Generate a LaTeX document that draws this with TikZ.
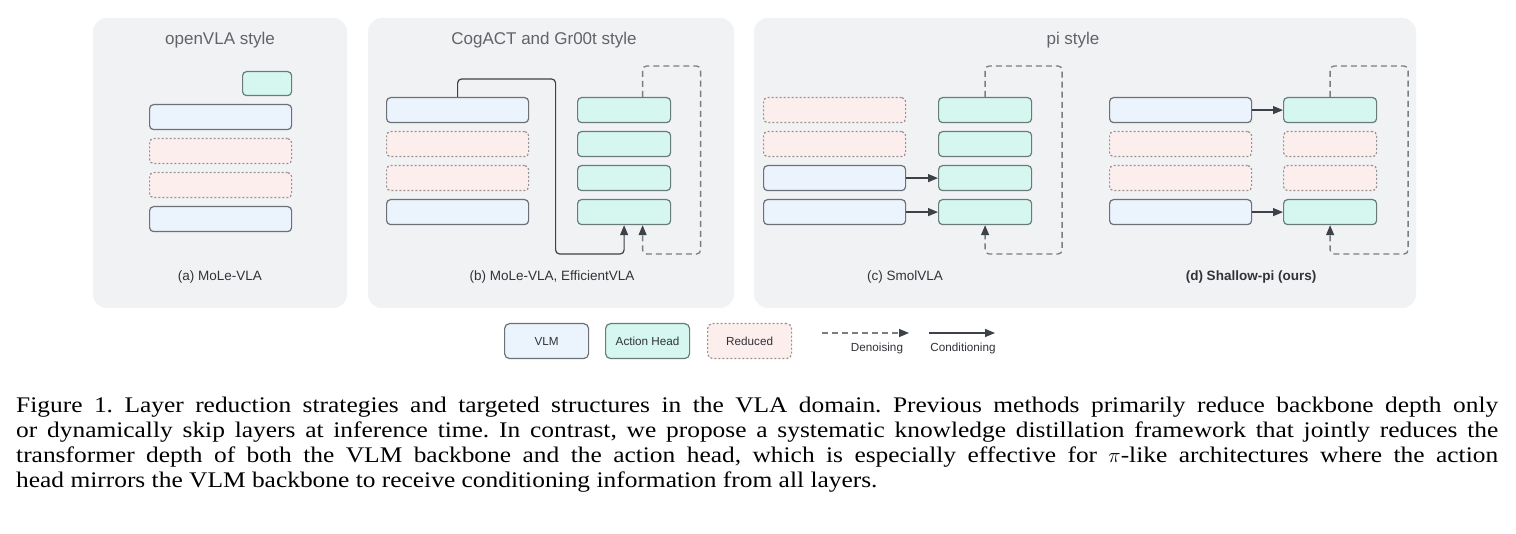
\documentclass[tikz,border=0pt]{standalone}
\usepackage{fontspec}
\setmainfont{Liberation Serif}[FakeStretch=1.14]
\newfontfamily\diagfont{Liberation Sans}
\usetikzlibrary{arrows.meta}
\definecolor{panelbg}{HTML}{F1F2F4}
\definecolor{vlmfill}{HTML}{EBF3FD}
\definecolor{actfill}{HTML}{D6F7F0}
\definecolor{redfill}{HTML}{FDEEEE}
\definecolor{boxline}{HTML}{6C7177}
\definecolor{actline}{HTML}{6A7C78}
\definecolor{redline}{HTML}{9A9090}
\definecolor{arrowcol}{HTML}{3D4249}
\definecolor{dashcol}{HTML}{7A7D82}
\definecolor{titlecol}{HTML}{606368}
\definecolor{labelcol}{HTML}{303338}
\begin{document}
\begin{tikzpicture}[x=1pt,y=-1pt,
  panel/.style={fill=panelbg,draw=none,rounded corners=14pt},
  blk/.style={anchor=north west,inner sep=0pt,minimum height=25pt,rounded corners=4pt,line width=1.2pt},
  vlm/.style={blk,fill=vlmfill,draw=boxline},
  act/.style={blk,fill=actfill,draw=actline},
  red/.style={blk,fill=redfill,draw=redline,dash pattern=on 2pt off 2pt},
  wide/.style={minimum width=142pt},
  narrow/.style={minimum width=93pt},
  title/.style={font=\diagfont\fontsize{17}{20}\selectfont,text=titlecol},
  sublabel/.style={font=\diagfont\fontsize{13.5}{16}\selectfont,text=labelcol},
  legtext/.style={font=\diagfont\fontsize{11.7}{14}\selectfont,text=labelcol},
  cond/.style={draw=arrowcol,line width=1.2pt,-{Triangle[length=10pt,width=8pt]},rounded corners=4pt},
  denoise/.style={draw=dashcol,line width=1.3pt,dash pattern=on 6pt off 4pt,rounded corners=4pt,
     -{Triangle[length=10pt,width=8pt,color=arrowcol]}},
  legbox/.style={anchor=north west,inner sep=0pt,minimum width=84pt,minimum height=35pt,rounded corners=5pt,line width=1.2pt}
]
\useasboundingbox (0,0) rectangle (1516,534);
\fill[white] (0,0) rectangle (1516,534);

% panels
\path[panel] (93,18) rectangle (347,308);
\path[panel] (368,18) rectangle (734,308);
\path[panel] (754,18) rectangle (1416,308);

\node[title] (ta) at (220,40) {openVLA style};
\node[title] (tb) at (544,40) {CogACT and Gr00t style};
\node[title] (tc) at (1073,40) {pi style};

% (a)
\node[act,minimum width=49pt,minimum height=24pt] (aa) at (242,71) {};
\node[vlm,wide] (av1) at (149,104) {};
\node[red,wide] (av2) at (149,138) {};
\node[red,wide] (av3) at (149,172) {};
\node[vlm,wide] (av4) at (149,206) {};
\node[sublabel] (la) at (220,277) {(a) MoLe-VLA};

% (b)
\node[vlm,wide] (bv1) at (386,97) {};
\node[red,wide] (bv2) at (386,131) {};
\node[red,wide] (bv3) at (386,165) {};
\node[vlm,wide] (bv4) at (386,199) {};
\node[act,narrow] (ba1) at (577,97) {};
\node[act,narrow] (ba2) at (577,131) {};
\node[act,narrow] (ba3) at (577,165) {};
\node[act,narrow] (ba4) at (577,199) {};
\draw[cond] (bv1.north) -- ++(0,-18) -- ++(98,0) -- ++(0,175) -| (ba4.south);
\draw[denoise] ([xshift=18.5pt]ba1.north) -- ++(0,-31) -- ++(58,0) -- ++(0,188) -| ([xshift=18.5pt]ba4.south);
\node[sublabel] (lb) at (552,277) {(b) MoLe-VLA, EfficientVLA};

% (c)
\node[red,wide] (cv1) at (763,97) {};
\node[red,wide] (cv2) at (763,131) {};
\node[vlm,wide] (cv3) at (763,165) {};
\node[vlm,wide] (cv4) at (763,199) {};
\node[act,narrow] (ca1) at (938,97) {};
\node[act,narrow] (ca2) at (938,131) {};
\node[act,narrow] (ca3) at (938,165) {};
\node[act,narrow] (ca4) at (938,199) {};
\draw[cond] (cv3.east) -- (ca3.west);
\draw[cond] (cv4.east) -- (ca4.west);
\draw[denoise] (ca1.north) -- ++(0,-31) -- ++(77,0) -- ++(0,188) -| (ca4.south);
\node[sublabel] (lc) at (905,277) {(c) SmolVLA};

% (d)
\node[vlm,wide] (dv1) at (1109,97) {};
\node[red,wide] (dv2) at (1109,131) {};
\node[red,wide] (dv3) at (1109,165) {};
\node[vlm,wide] (dv4) at (1109,199) {};
\node[act,narrow] (da1) at (1283,97) {};
\node[red,narrow] (da2) at (1283,131) {};
\node[red,narrow] (da3) at (1283,165) {};
\node[act,narrow] (da4) at (1283,199) {};
\draw[cond] (dv1.east) -- (da1.west);
\draw[cond] (dv4.east) -- (da4.west);
\draw[denoise] (da1.north) -- ++(0,-31) -- ++(78,0) -- ++(0,188) -| (da4.south);
\node[sublabel,font=\diagfont\bfseries\fontsize{13.5}{16}\selectfont] (ld) at (1251,277) {(d) Shallow-pi (ours)};

% legend
\node[legbox,fill=vlmfill,draw=boxline,legtext] (lg1) at (504,323) {VLM};
\node[legbox,fill=actfill,draw=actline,legtext] (lg2) at (605,323) {Action Head};
\node[legbox,fill=redfill,draw=redline,dash pattern=on 2pt off 2pt,legtext] (lg3) at (707,323) {Reduced};
\coordinate (dn1) at (822,333);
\coordinate (dn2) at (909,333);
\coordinate (cd1) at (929,333);
\coordinate (cd2) at (995,333);
\draw[denoise] (dn1) -- (dn2);
\draw[cond] (cd1) -- (cd2);
\node[legtext] (ldn) at (877,348) {Denoising};
\node[legtext] (lcd) at (963,348) {Conditioning};

% caption
\node[anchor=base west,inner sep=0pt,text width=1482pt,align=justify,
      font=\fontsize{22.3}{24.7}\selectfont\frenchspacing] (cap) at (16,413)
{Figure 1. Layer reduction strategies and targeted structures in the VLA domain. Previous methods primarily reduce backbone depth only\linebreak
or dynamically skip layers at inference time. In contrast, we propose a systematic knowledge distillation framework that jointly reduces the\linebreak
transformer depth of both the VLM backbone and the action head, which is especially effective for $\pi$-like architectures where the action\linebreak
head mirrors the VLM backbone to receive conditioning information from all layers.};
\end{tikzpicture}
\end{document}
